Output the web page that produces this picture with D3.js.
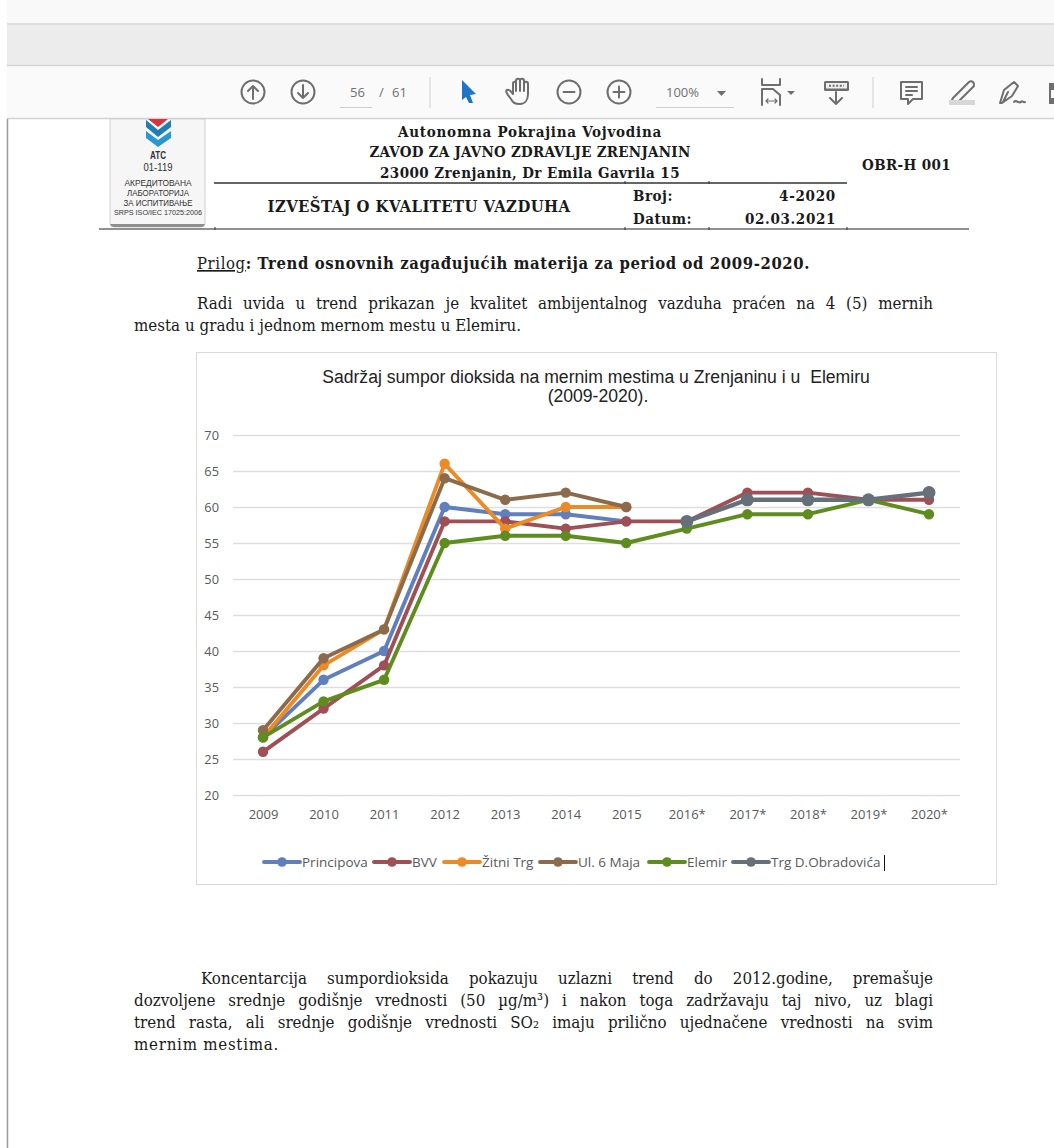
<!DOCTYPE html>
<html>
<head>
<meta charset="utf-8">
<script src="https://cdn.jsdelivr.net/npm/d3@7"></script>
<style>
  html, body { margin: 0; padding: 0; background: #fff; overflow: hidden; }
  svg { display: block; }
</style>
</head>
<body>
<svg id="page" width="1054" height="1148"></svg>
<script>
// chart data
var years = ["2009","2010","2011","2012","2013","2014","2015","2016*","2017*","2018*","2019*","2020*"];
var yTicks = [20,25,30,35,40,45,50,55,60,65,70];
var seriesNames = ["Principova","BVV","Žitni Trg","Ul. 6 Maja","Elemir","Trg D.Obradovića"];
var seriesColors = ["#5f7fbd","#a04f55","#ee8a25","#8b6b4b","#5f8c1e","#66707a"];
var principova = [28,36,40,60,59,59,58,null,null,null,null,null];
var bvv        = [26,32,38,58,58,57,58,58,62,62,61,61];
var zitni      = [28,38,43,66,57,60,60,null,null,null,null,null];
var ul6maja    = [29,39,43,64,61,62,60,null,null,null,null,null];
var elemir     = [28,33,36,55,56,56,55,57,59,59,61,59];
var trg        = [null,null,null,null,null,null,null,58,61,61,61,62];
var allSeries  = [principova,bvv,zitni,ul6maja,elemir,trg];

var svg = d3.select("#page");
var serif = "'DejaVu Serif Condensed','DejaVu Serif','Liberation Serif',serif";
var sans = "'Liberation Sans',Arial,sans-serif";

// ---- viewer chrome ----
svg.append("rect").attr("x",7).attr("y",0).attr("width",1047).attr("height",24).attr("fill","#f9f9f9");
svg.append("rect").attr("x",7).attr("y",25).attr("width",1047).attr("height",40).attr("fill","#ececec");
svg.append("rect").attr("x",7).attr("y",67).attr("width",1047).attr("height",51).attr("fill","#fafafa");
[24,65.5,118.5].forEach(function(y){
  svg.append("line").attr("x1",7).attr("x2",1054).attr("y1",y).attr("y2",y).attr("stroke","#d4d4d4").attr("stroke-width",1.5);
});
svg.append("line").attr("x1",7.5).attr("x2",7.5).attr("y1",119).attr("y2",1148).attr("stroke","#9a9a9a").attr("stroke-width",1.5);

var iconColor = "#6e6e6e";
var icons = svg.append("g").attr("fill","none").attr("stroke",iconColor).attr("stroke-width",2)
  .attr("stroke-linecap","round").attr("stroke-linejoin","round");
[[253,"up"],[303,"down"],[569,"minus"],[619,"plus"]].forEach(function(d){
  var g = icons.append("g").attr("transform","translate("+d[0]+",92)");
  g.append("circle").attr("r",11.5);
  if(d[1]=="up") g.append("path").attr("d","M0,7V-6M-5,-1L0,-6L5,-1");
  if(d[1]=="down") g.append("path").attr("d","M0,-7V6M-5,1L0,6L5,1");
  if(d[1]=="minus") g.append("path").attr("d","M-5.5,0H5.5");
  if(d[1]=="plus") g.append("path").attr("d","M-5.5,0H5.5M0,-5.5V5.5");
});
svg.append("path").attr("d","M462,80L476,94L470,95L473,103L469,103L466,97L462,100Z").attr("fill","#1f73c8");
icons.append("path").attr("d","M511,99C507,94 505,91 507,90C510,89 512,93 513,94V84C513,81 516,81 516,84V91V81C516,78 520,78 520,81V91V81C520,78 524,78 524,81V91V84C524,81 528,81 528,84V94C528,100 525,104 520,104C515,104 513,103 511,99Z");
// fit page
icons.append("path").attr("d","M762,79V85H780V79M762,105V89H773L780,95V105");
icons.append("path").attr("stroke-width",1.2).attr("d","M766,101H777M766,101L768,99M766,101L768,103M777,101L775,99M777,101L775,103");
svg.append("path").attr("d","M787,91H795L791,95Z").attr("fill",iconColor);
// read mode
svg.append("rect").attr("x",824).attr("y",81).attr("width",25).attr("height",10).attr("rx",1.5).attr("fill",iconColor);
svg.append("rect").attr("x",826).attr("y",83).attr("width",21).attr("height",5.5).attr("fill","#efefef");
svg.append("line").attr("x1",829).attr("x2",844).attr("y1",85.7).attr("y2",85.7).attr("stroke",iconColor).attr("stroke-width",2).attr("stroke-dasharray","2 1.6");
icons.append("path").attr("d","M836,92V104M830,98L836,104L842,98");
// separators
[430,873].forEach(function(x){
  svg.append("line").attr("x1",x).attr("x2",x).attr("y1",77).attr("y2",108).attr("stroke","#d0d0d0");
});
// comment, pen, sign, edge
icons.append("path").attr("d","M901,82H922V99H913L908,104V99H901ZM906,87H917M906,91H917M906,95H912");
icons.append("path").attr("d","M953,98L969,82C972,80 975,83 974,86L958,102L950,104Z");
svg.append("rect").attr("x",949).attr("y",100).attr("width",26).attr("height",5).attr("fill","#d8d8d8");
icons.append("path").attr("d","M1000,103L1004,90L1014,82L1018,86L1012,96L1002,103ZM1008,92L1003,102M1014,102C1016,99 1019,104 1021,102C1022,100 1024,103 1025,102");
svg.append("path").attr("d","M1049,83H1054V90H1051V98H1054V104H1049Z").attr("fill",iconColor);

function chromeText(x,y,t,anchor,size){
  svg.append("text").attr("x",x).attr("y",y).attr("text-anchor",anchor||"start")
    .attr("font-family","'Open Sans',sans-serif").attr("font-size",size||13).attr("fill","#707070").text(t);
}
chromeText(350,97,"56");
chromeText(379,97,"/");
chromeText(392,97,"61");
chromeText(666,97,"100%");
svg.append("path").attr("d","M717,91H726L721.5,96Z").attr("fill",iconColor);
svg.append("line").attr("x1",340).attr("x2",372).attr("y1",107.5).attr("y2",107.5).attr("stroke","#cfcfcf");
svg.append("line").attr("x1",656).attr("x2",734).attr("y1",107.5).attr("y2",107.5).attr("stroke","#cfcfcf");

// ---- document header ----
var logo = svg.append("g");
logo.append("path").attr("d","M110,119V223Q110,227 114,227H201Q205,227 205,223V119Z").attr("fill","#f6f6f6").attr("stroke","#cfcfcf");
logo.append("path").attr("d","M110,224Q111,227 114,227H201Q204,227 205,224Z").attr("fill","#8f8f8f");
logo.append("path").attr("d","M148,119H168L158,127Z").attr("fill","#d8343f");
logo.append("path").attr("d","M146,120L158,130L171,120V127L158,137L146,127Z").attr("fill","#1f7fb5");
logo.append("path").attr("d","M146,131L158,140L171,131V138L158,147L146,138Z").attr("fill","#2a97cf");
[["ATC",159,10,16,"bold"],["01-119",171,10.5,29],["АКРЕДИТОВАНА",186,9.2,67],["ЛАБОРАТОРИЈА",195.5,9.2,62],["ЗА ИСПИТИВАЊЕ",205.5,9.2,69],["SRPS ISO/IEC 17025:2006",215,7.6,88]].forEach(function(d){
  logo.append("text").attr("x",158).attr("y",d[1]).attr("text-anchor","middle")
    .attr("font-family",sans).attr("font-size",d[2]).attr("font-weight",d[4]||"normal").attr("fill","#333")
    .attr("textLength",d[3]).attr("lengthAdjust","spacingAndGlyphs").text(d[0]);
});

// text fitted to a width with letter spacing (Cambria is not available)
function fit(el,w){
  var chars = el.text().length;
  el.attr("letter-spacing",(w-el.node().getComputedTextLength())/chars);
  return el;
}
function docText(x,y,t,opts){
  opts = opts || {};
  var el = svg.append("text").attr("x",x).attr("y",y).attr("text-anchor",opts.anchor||"start")
    .attr("font-family",serif).attr("font-size",opts.size||15).attr("font-weight",opts.weight||"bold")
    .attr("fill","#1a1a1a").text(t);
  if(opts.w) fit(el,opts.w);
  return el;
}
docText(530,137,"Autonomna Pokrajina Vojvodina",{anchor:"middle",w:264});
docText(530,157,"ZAVOD ZA JAVNO ZDRAVLJE ZRENJANIN",{anchor:"middle",w:321});
docText(530,178,"23000 Zrenjanin, Dr Emila Gavrila 15",{anchor:"middle",w:300});
docText(862,170,"OBR-H 001",{w:89});
docText(419,212,"IZVEŠTAJ O KVALITETU VAZDUHA",{anchor:"middle",size:16.5,w:303});
docText(633,201,"Broj:",{w:40});
docText(633,224,"Datum:",{w:59});
docText(836,201,"4-2020",{anchor:"end",w:57});
docText(836,224,"02.03.2021",{anchor:"end",w:91});
svg.append("line").attr("x1",214).attr("x2",847).attr("y1",183).attr("y2",183).attr("stroke","#333").attr("stroke-width",1.5);
svg.append("line").attr("x1",99).attr("x2",969).attr("y1",229).attr("y2",229).attr("stroke","#222").attr("stroke-width",1.2);
[[625,183],[709,183],[215,229],[625,229],[709,229],[847,229]].forEach(function(d){
  svg.append("line").attr("x1",d[0]).attr("x2",d[0]).attr("y1",d[1]-2).attr("y2",d[1]+1).attr("stroke","#333");
});

// intro + closing text
var bodySize = 16.8;
function justLine(x,y,t,right){
  var el = docText(x,y,t,{weight:"normal",size:bodySize});
  var gaps = t.split(" ").length-1;
  el.attr("word-spacing",(right-x-el.node().getComputedTextLength())/gaps);
}
function plainLine(x,y,t,w){
  docText(x,y,t,{weight:"normal",size:bodySize,w:w});
}
var prilog = docText(197,269,"",{size:16.5,weight:"bold"});
prilog.append("tspan").attr("text-decoration","underline").attr("font-weight","normal").text("Prilog");
prilog.append("tspan").text(": Trend osnovnih zagađujućih materija za period od 2009-2020.");
fit(prilog,613);
justLine(197,309,"Radi uvida u trend prikazan je kvalitet ambijentalnog vazduha praćen na 4 (5) mernih",933);
plainLine(134,331,"mesta u gradu i jednom mernom mestu u Elemiru.",387);
justLine(201,984,"Koncentarcija sumpordioksida pokazuju uzlazni trend do 2012.godine, premašuje",933);
justLine(134,1006,"dozvoljene srednje godišnje vrednosti (50 µg/m³) i nakon toga zadržavaju taj nivo, uz blagi",933);
justLine(134,1028,"trend rasta, ali srednje godišnje vrednosti SO₂ imaju prilično ujednačene vrednosti na svim",933);
plainLine(134,1050,"mernim mestima.",145);

// ---- the chart ----
svg.append("rect").attr("x",196.5).attr("y",352.5).attr("width",800).attr("height",532)
  .attr("fill","#fff").attr("stroke","#d9d9d9");

var chartFont = "'Open Sans','Noto Sans',sans-serif";
svg.append("text").attr("x",596).attr("y",383).attr("text-anchor","middle").attr("font-family",sans)
  .attr("font-size",17.6).attr("fill","#222").attr("xml:space","preserve").text("Sadržaj sumpor dioksida na mernim mestima u Zrenjaninu i u  Elemiru");
svg.append("text").attr("x",598).attr("y",402).attr("text-anchor","middle").attr("font-family",sans)
  .attr("font-size",17.6).attr("fill","#222").text("(2009-2020).");

var x = d3.scalePoint().domain(years).range([263,929]);
var y = d3.scaleLinear().domain([20,70]).range([795,435]);

var yAxis = d3.axisLeft(y).tickValues(yTicks).tickSize(-727).tickPadding(14);
var gy = svg.append("g").attr("transform","translate(233,0)").call(yAxis);
gy.select(".domain").remove();
gy.selectAll(".tick line").attr("stroke","#dedede").attr("stroke-width",1.3);
gy.selectAll(".tick text").attr("x",-14).attr("text-anchor","end").attr("font-family",chartFont).attr("font-size",12.8).attr("fill","#595959");

var xAxis = d3.axisBottom(x).tickSize(0).tickPadding(15);
var gx = svg.append("g").attr("transform","translate(0,795)").call(xAxis);
gx.select(".domain").remove();
gx.selectAll(".tick text").attr("font-family",chartFont).attr("font-size",13).attr("fill","#595959");

var line = d3.line()
  .defined(function(d){ return d != null; })
  .x(function(d,i){ return x(years[i]); })
  .y(function(d){ return y(d); });

allSeries.forEach(function(vals,s){
  var g = svg.append("g").attr("class","series");
  var last = s == 5;
  g.append("path").datum(vals).attr("d",line).attr("fill","none")
    .attr("stroke",seriesColors[s]).attr("stroke-width",last ? 4.4 : 3.9).attr("stroke-linejoin","round");
  var pts = vals.map(function(v,i){ return {year:years[i], value:v}; })
    .filter(function(d){ return d.value != null; });
  g.selectAll("circle").data(pts).enter().append("circle")
    .attr("cx",function(d){ return x(d.year); })
    .attr("cy",function(d){ return y(d.value); })
    .attr("r",last ? 6.5 : 5.2)
    .attr("fill",seriesColors[s]);
});

// legend
var legendX = [264,374,444,540,649,733];
var legend = svg.append("g");
seriesNames.forEach(function(name,i){
  var g = legend.append("g").attr("transform","translate("+legendX[i]+",862)");
  g.append("line").attr("x1",0).attr("x2",36).attr("stroke",seriesColors[i]).attr("stroke-width",3.9).attr("stroke-linecap","round");
  g.append("circle").attr("cx",18).attr("r",4.8).attr("fill",seriesColors[i]);
  g.append("text").attr("x",38).attr("y",5).attr("font-family",chartFont).attr("font-size",13.5).attr("fill","#595959").text(name);
});
// text cursor left in the legend
svg.append("line").attr("x1",884.5).attr("x2",884.5).attr("y1",855).attr("y2",871).attr("stroke","#111").attr("stroke-width",1);
</script>
</body>
</html>
